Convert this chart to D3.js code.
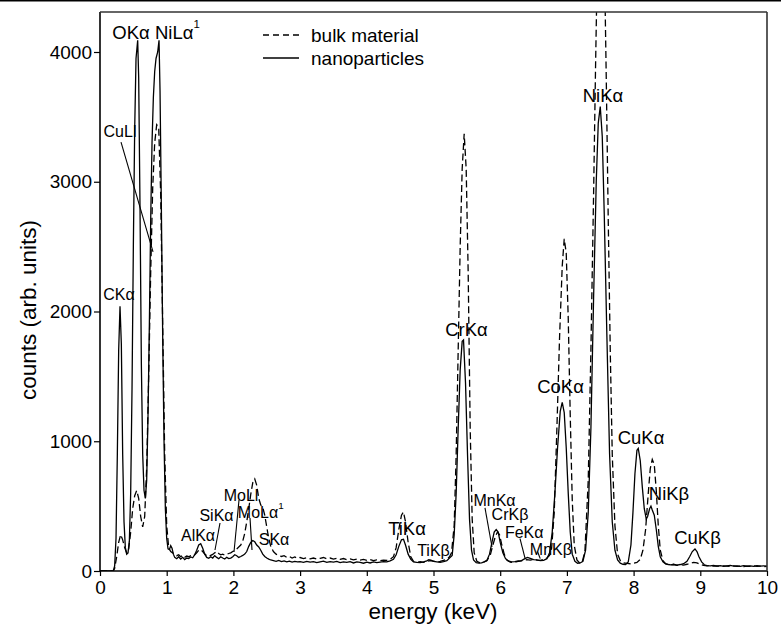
<!DOCTYPE html>
<html><head><meta charset="utf-8">
<script src="https://cdn.jsdelivr.net/npm/d3@7"></script>
<style>
body{margin:0;background:#fff;}
svg{display:block;font-family:"Liberation Sans",Arial,Helvetica,sans-serif;}
</style></head>
<body>
<svg id="chart" width="781" height="632"></svg>
<script>
// ---- data ----
const xTicks = [0,1,2,3,4,5,6,7,8,9,10];
const yTicks = [0,1000,2000,3000,4000];
const seriesNames = ["bulk material","nanoparticles"];

const nanoSpectrum = [
[0,0],[0.1,0],[0.2,2],[0.22,40],[0.24,250],[0.26,900],[0.28,1700],[0.30,2040],[0.32,1750],[0.34,900],[0.36,380],[0.38,180],[0.40,130],[0.42,140],[0.44,230],[0.46,600],[0.48,1400],[0.50,2500],[0.52,3400],[0.54,3950],[0.565,4090],[0.58,3800],[0.60,2800],[0.62,1600],[0.64,900],[0.66,620],[0.68,560],[0.70,700],[0.72,1200],[0.74,1900],[0.76,2700],[0.78,3300],[0.80,3650],[0.82,3850],[0.84,3950],[0.865,4000],[0.885,4090],[0.90,3700],[0.92,2800],[0.94,1800],[0.96,1000],[0.98,480],[1.00,250],[1.02,170],[1.04,165],[1.06,195],[1.08,175],[1.10,130],[1.12,105],[1.15,95],[1.18,110],[1.21,92],[1.24,105],[1.27,88],[1.30,100],[1.33,96],[1.36,108],[1.39,102],[1.42,125],[1.45,160],[1.48,200],[1.51,210],[1.54,175],[1.57,130],[1.60,105],[1.63,98],[1.66,110],[1.69,100],[1.72,118],[1.75,105],[1.78,95],[1.81,110],[1.84,100],[1.87,92],[1.90,105],[1.93,96],[1.96,100],[1.99,110],[2.02,125],[2.05,118],[2.08,105],[2.11,112],[2.14,120],[2.17,130],[2.20,150],[2.23,190],[2.26,220],[2.29,235],[2.32,225],[2.35,200],[2.38,185],[2.41,160],[2.44,130],[2.47,112],[2.50,100],[2.53,92],[2.56,85],[2.60,80],[2.64,75],[2.68,82],[2.72,72],[2.76,78],[2.80,70],[2.84,76],[2.88,68],[2.92,74],[2.96,70],[3.00,72],[3.05,66],[3.10,74],[3.15,68],[3.20,72],[3.25,64],[3.30,70],[3.35,76],[3.40,66],[3.45,72],[3.50,68],[3.55,74],[3.60,64],[3.65,70],[3.70,66],[3.75,72],[3.80,62],[3.85,70],[3.90,66],[3.95,60],[4.00,68],[4.05,62],[4.10,70],[4.15,64],[4.20,68],[4.25,72],[4.30,70],[4.35,78],[4.40,90],[4.44,125],[4.48,190],[4.52,240],[4.55,245],[4.58,200],[4.62,130],[4.66,90],[4.70,70],[4.75,66],[4.80,64],[4.85,70],[4.90,78],[4.93,88],[4.96,84],[5.00,74],[5.05,70],[5.10,66],[5.15,72],[5.20,80],[5.24,100],[5.28,120],[5.31,280],[5.34,600],[5.37,1100],[5.40,1550],[5.43,1770],[5.45,1780],[5.48,1450],[5.51,900],[5.54,400],[5.57,160],[5.60,85],[5.64,64],[5.68,60],[5.72,62],[5.76,70],[5.80,80],[5.84,130],[5.88,230],[5.91,300],[5.94,320],[5.97,300],[6.00,220],[6.04,140],[6.08,95],[6.12,78],[6.17,70],[6.22,72],[6.27,78],[6.32,80],[6.37,95],[6.41,105],[6.45,98],[6.50,88],[6.55,85],[6.60,80],[6.65,82],[6.70,95],[6.74,140],[6.78,300],[6.82,600],[6.86,950],[6.90,1230],[6.93,1300],[6.96,1220],[6.99,950],[7.02,600],[7.05,300],[7.08,130],[7.12,75],[7.16,60],[7.20,62],[7.24,75],[7.28,160],[7.32,450],[7.36,1100],[7.40,2100],[7.44,3000],[7.47,3450],[7.50,3580],[7.53,3350],[7.56,2750],[7.60,1800],[7.64,900],[7.68,380],[7.72,160],[7.76,85],[7.80,60],[7.84,52],[7.88,50],[7.92,70],[7.96,200],[7.99,450],[8.02,750],[8.05,930],[8.07,945],[8.10,850],[8.13,650],[8.16,480],[8.19,400],[8.21,420],[8.24,480],[8.26,500],[8.28,470],[8.31,430],[8.34,320],[8.37,190],[8.40,110],[8.44,70],[8.48,55],[8.52,50],[8.56,48],[8.60,52],[8.65,46],[8.70,50],[8.75,56],[8.80,75],[8.84,110],[8.88,150],[8.92,170],[8.95,150],[8.98,110],[9.02,70],[9.06,48],[9.10,42],[9.15,40],[9.20,44],[9.25,38],[9.30,42],[9.35,36],[9.40,40],[9.45,44],[9.50,38],[9.55,40],[9.60,36],[9.65,42],[9.70,38],[9.75,40],[9.80,36],[9.85,42],[9.90,38],[9.95,40],[10.0,38]
];

const bulkSpectrum = [
[0,0],[0.1,0],[0.2,0],[0.22,20],[0.25,110],[0.28,220],[0.31,280],[0.34,240],[0.37,180],[0.40,140],[0.43,170],[0.46,300],[0.49,480],[0.52,580],[0.55,620],[0.58,560],[0.61,420],[0.64,340],[0.67,420],[0.70,800],[0.73,1500],[0.76,2300],[0.79,2950],[0.82,3300],[0.85,3440],[0.88,3420],[0.91,2900],[0.94,1900],[0.97,900],[1.00,350],[1.03,180],[1.06,150],[1.09,140],[1.12,125],[1.15,118],[1.18,125],[1.21,110],[1.24,120],[1.27,105],[1.30,115],[1.33,110],[1.36,118],[1.39,112],[1.42,125],[1.45,140],[1.48,160],[1.51,165],[1.54,150],[1.57,130],[1.60,118],[1.63,112],[1.66,120],[1.69,128],[1.72,140],[1.75,150],[1.78,135],[1.81,125],[1.84,130],[1.87,122],[1.90,128],[1.93,135],[1.96,140],[1.99,150],[2.02,160],[2.05,170],[2.08,185],[2.11,200],[2.14,230],[2.17,290],[2.20,380],[2.23,480],[2.26,590],[2.29,680],[2.32,710],[2.35,660],[2.38,560],[2.41,510],[2.44,490],[2.47,430],[2.50,340],[2.53,250],[2.56,190],[2.60,150],[2.64,130],[2.68,120],[2.72,112],[2.76,118],[2.80,105],[2.84,112],[2.88,100],[2.92,108],[2.96,98],[3.00,104],[3.05,96],[3.10,102],[3.15,94],[3.20,100],[3.25,92],[3.30,98],[3.35,104],[3.40,94],[3.45,100],[3.50,92],[3.55,98],[3.60,90],[3.65,96],[3.70,88],[3.75,94],[3.80,86],[3.85,92],[3.90,84],[3.95,90],[4.00,82],[4.05,88],[4.10,80],[4.15,86],[4.20,80],[4.25,84],[4.30,82],[4.35,90],[4.40,110],[4.44,180],[4.48,320],[4.52,430],[4.55,455],[4.58,380],[4.62,220],[4.66,110],[4.70,75],[4.75,68],[4.80,72],[4.85,66],[4.90,74],[4.95,80],[5.00,76],[5.05,70],[5.10,74],[5.15,82],[5.20,90],[5.24,110],[5.27,140],[5.31,350],[5.34,900],[5.37,1700],[5.40,2500],[5.43,3100],[5.46,3370],[5.49,3100],[5.52,2300],[5.55,1100],[5.58,400],[5.61,140],[5.65,75],[5.70,62],[5.75,68],[5.80,80],[5.85,120],[5.89,200],[5.93,270],[5.96,300],[5.99,280],[6.02,210],[6.06,130],[6.10,85],[6.15,68],[6.20,66],[6.25,72],[6.30,76],[6.35,82],[6.40,88],[6.45,84],[6.50,90],[6.55,84],[6.60,82],[6.65,88],[6.70,100],[6.74,120],[6.77,170],[6.81,450],[6.85,1100],[6.89,1800],[6.93,2350],[6.96,2560],[6.99,2450],[7.02,1950],[7.05,1200],[7.08,550],[7.11,200],[7.15,85],[7.19,62],[7.23,70],[7.27,150],[7.32,700],[7.36,1700],[7.40,2900],[7.43,3900],[7.46,4800],[7.51,5600],[7.56,4800],[7.59,3800],[7.62,2700],[7.65,1700],[7.68,900],[7.72,350],[7.76,130],[7.80,80],[7.85,62],[7.90,58],[7.95,56],[8.00,60],[8.05,66],[8.10,90],[8.14,160],[8.18,320],[8.22,600],[8.25,790],[8.28,860],[8.31,820],[8.34,620],[8.37,350],[8.40,160],[8.44,80],[8.48,56],[8.52,50],[8.56,46],[8.60,50],[8.65,44],[8.70,48],[8.75,46],[8.80,52],[8.85,60],[8.90,66],[8.95,62],[9.00,50],[9.05,44],[9.10,40],[9.15,42],[9.20,38],[9.25,40],[9.30,36],[9.35,40],[9.40,38],[9.45,36],[9.50,40],[9.55,36],[9.60,38],[9.65,34],[9.70,38],[9.75,36],[9.80,40],[9.85,36],[9.90,38],[9.95,34],[10.0,36]
];

// peak labels: [main text, superscript, energy (keV), counts]
const largeLabels = [
  ["OKα","",0.465,4154],
  ["NiLα","1",1.16,4154],
  ["CrKα","",5.495,1865],
  ["CoKα","",6.904,1426],
  ["NiKα","",7.541,3669],
  ["CuKα","",8.111,1033],
  ["NiKβ","",8.531,601],
  ["CuKβ","",8.958,262],
  ["TiKα","",4.603,331]
];
const smallLabels = [
  ["CuLl","",0.30,3391],
  ["CKα","",0.285,2135],
  ["AlKα","",1.47,277],
  ["SiKα","",1.747,432],
  ["MoLl","",2.114,586],
  ["MoLα","1",2.41,455],
  ["SKα","",2.609,247],
  ["TiKβ","",5.0,162],
  ["MnKα","",5.915,547],
  ["CrKβ","",6.147,436],
  ["FeKα","",6.36,300],
  ["MnKβ","",6.76,166]
];
// leader lines: [e1, c1, e2, c2]
const leaders = [
  [0.315,3305,0.795,2459],
  [1.799,370,1.724,162],
  [2.084,547,2.009,146],
  [2.249,408,2.279,162],
  [5.772,486,5.877,185],
  [6.297,250,6.372,100],
  [6.56,150,6.60,95]
];

// ---- layout ----
const svg = d3.select("#chart");
const L = 100, R = 767, T = 12, B = 571;
const x = d3.scaleLinear().domain([0,10]).range([L,R]);
const y = d3.scaleLinear().domain([0,4000]).range([B,52]);

svg.append("line").attr("x1",0).attr("x2",781).attr("y1",0.75).attr("y2",0.75)
  .attr("stroke","#000").attr("stroke-width",1.5);

svg.append("clipPath").attr("id","clip").append("rect")
  .attr("x",L).attr("y",T).attr("width",R-L).attr("height",B-T);

const line = d3.line().x(d=>x(d[0])).y(d=>y(d[1]));
const g = svg.append("g").attr("clip-path","url(#clip)");
g.append("path").datum(bulkSpectrum).attr("d",line)
  .attr("fill","none").attr("stroke","#000").attr("stroke-width",1.3)
  .attr("stroke-dasharray","7,3.5");
g.append("path").datum(nanoSpectrum).attr("d",line)
  .attr("fill","none").attr("stroke","#000").attr("stroke-width",1.3);

// axes
const xAxis = svg.append("g").attr("transform",`translate(0,${B})`)
  .call(d3.axisBottom(x).tickValues(xTicks).tickSize(5).tickPadding(5).tickFormat(d3.format("d")));
const yAxis = svg.append("g").attr("transform",`translate(${L},0)`)
  .call(d3.axisLeft(y).tickValues(yTicks).tickSize(6).tickPadding(2).tickFormat(d3.format("d")));
[xAxis,yAxis].forEach(a=>{
  a.select(".domain").remove();
  a.selectAll("line").attr("stroke","#000").attr("stroke-width",1.2);
  a.selectAll("text").attr("font-size",19).attr("fill","#000")
    .attr("font-family","Liberation Sans, Arial, sans-serif");
});
// frame
svg.append("line").attr("x1",L).attr("x2",L).attr("y1",T).attr("y2",B).attr("stroke","#000").attr("stroke-width",1.6);
svg.append("line").attr("x1",L).attr("x2",R).attr("y1",B).attr("y2",B).attr("stroke","#000").attr("stroke-width",1.6);
svg.append("line").attr("x1",L).attr("x2",R).attr("y1",T).attr("y2",T).attr("stroke","#333").attr("stroke-width",1.6);
svg.append("line").attr("x1",R).attr("x2",R).attr("y1",T).attr("y2",B).attr("stroke","#333").attr("stroke-width",1.6);

// axis titles
svg.append("text").attr("x",433).attr("y",619).attr("text-anchor","middle")
  .attr("font-size",22.5).text("energy (keV)");
svg.append("text").attr("transform","translate(36,310) rotate(-90)").attr("text-anchor","middle")
  .attr("font-size",22.5).text("counts (arb. units)");

// labels
function drawLabels(list, size){
  list.forEach(l=>{
    const t = svg.append("text").attr("x",x(l[2])).attr("y",y(l[3]))
      .attr("text-anchor","middle").attr("dominant-baseline","central")
      .attr("font-size",size);
    t.append("tspan").text(l[0]);
    if(l[1]) t.append("tspan").attr("dy",-size*0.45).attr("font-size",size*0.62).text(l[1]);
  });
}
drawLabels(largeLabels,18.5);
drawLabels(smallLabels,16);
leaders.forEach(d=>{
  svg.append("line").attr("x1",x(d[0])).attr("y1",y(d[1])).attr("x2",x(d[2])).attr("y2",y(d[3]))
    .attr("stroke","#000").attr("stroke-width",1.1);
});

// legend
const leg = svg.append("g");
seriesNames.forEach((n,i)=>{
  const yy = 35 + i*23;
  leg.append("line").attr("x1",263).attr("x2",299).attr("y1",yy).attr("y2",yy)
    .attr("stroke","#000").attr("stroke-width",1.3)
    .attr("stroke-dasharray", i===0 ? "6,4" : null);
  leg.append("text").attr("x",311).attr("y",yy).attr("dominant-baseline","central")
    .attr("font-size",19).text(n);
});
</script>
</body></html>
